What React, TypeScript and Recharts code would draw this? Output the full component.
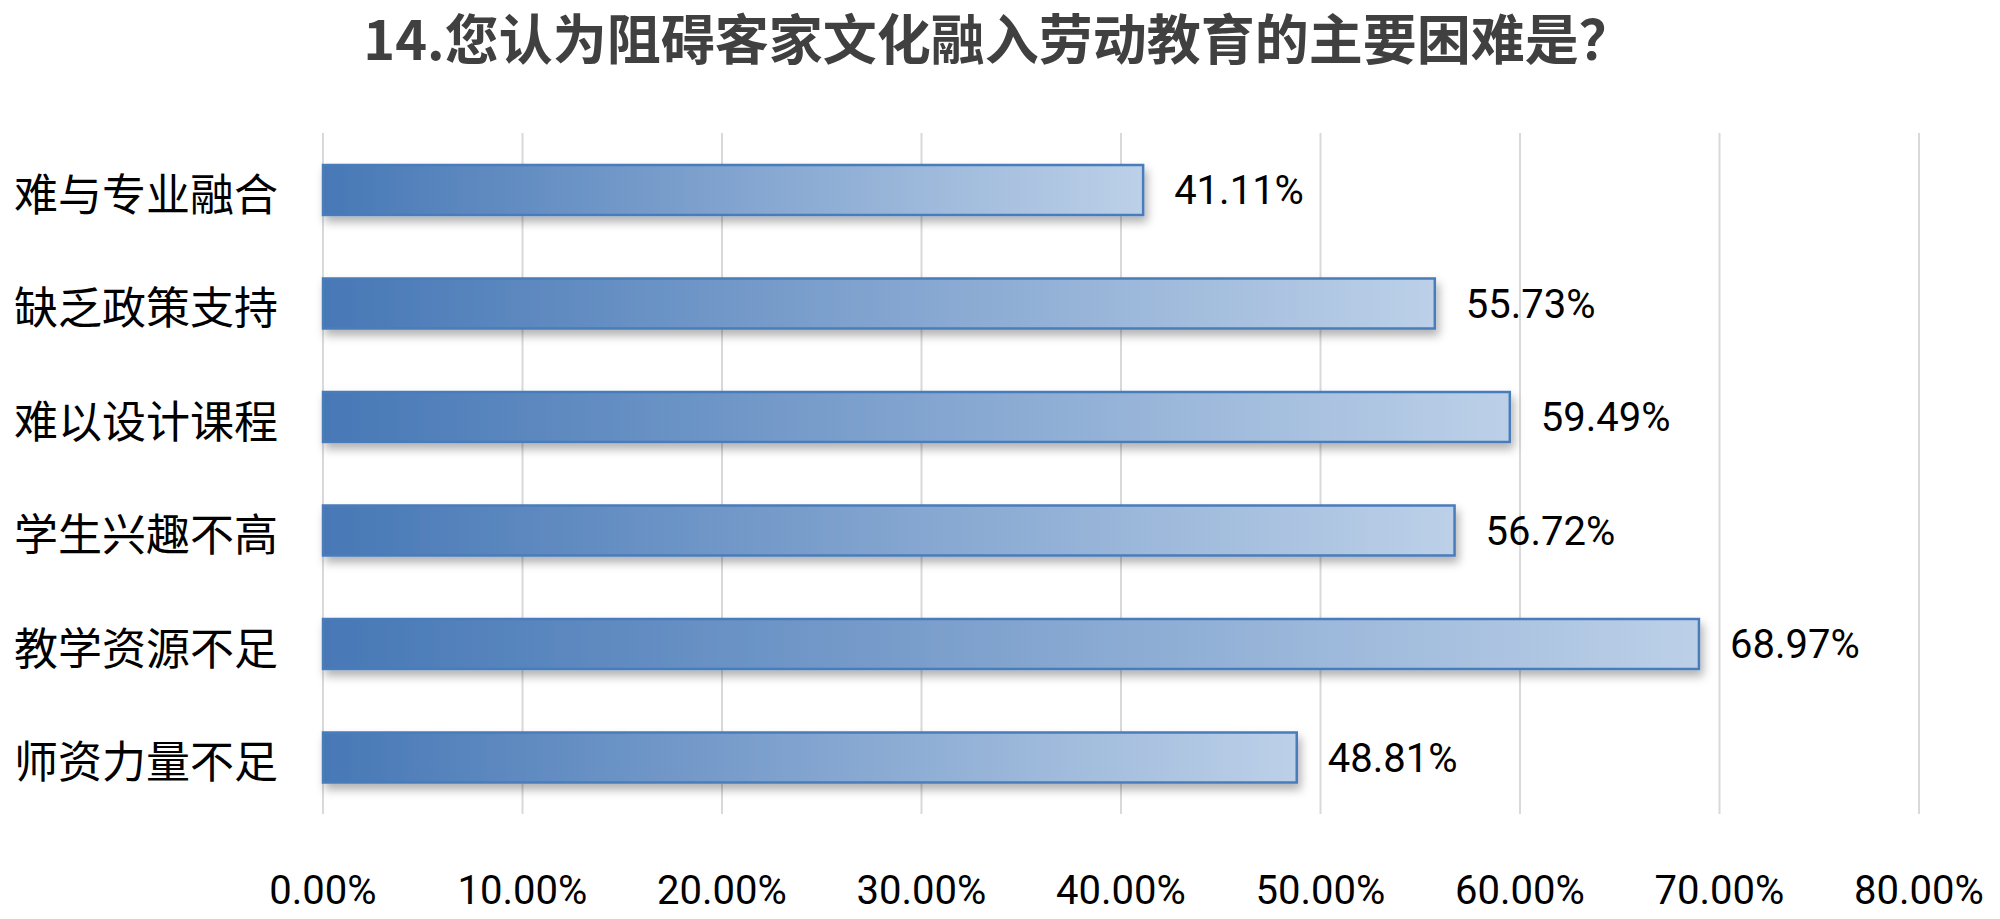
import React from 'react';
import { BarChart, Bar, XAxis, YAxis, CartesianGrid, LabelList } from 'recharts';

const categories = ['难与专业融合', '缺乏政策支持', '难以设计课程', '学生兴趣不高', '教学资源不足', '师资力量不足'];
const percents = [41.11, 55.73, 59.49, 56.72, 68.97, 48.81];
const xTicks = [0, 10, 20, 30, 40, 50, 60, 70, 80];

const data = categories.map((name, i) => ({ name, value: percents[i] }));

const fmt = (v: number) => `${Number(v).toFixed(2)}%`;

const CategoryTick: React.FC<any> = ({ y, payload }) => (
  <text x={14} y={y} dy={2} textAnchor="start" dominantBaseline="central"
    fontFamily='"Noto Sans CJK SC", sans-serif' fontSize={44} fill="#000">
    {payload.value}
  </text>
);

const PercentTick: React.FC<any> = ({ x, y, payload }) => (
  <text x={x} y={y} dy={68} textAnchor="middle" dominantBaseline="central"
    fontFamily="Roboto, sans-serif" fontSize={40} fill="#000">
    {fmt(payload.value)}
  </text>
);

const App: React.FC = () => {
  return (
    <div style={{ position: 'absolute', left: 0, top: 0, width: 2000, height: 919, background: '#fff' }}>
      <div style={{
        position: 'absolute', left: 0, top: 4, width: 1996, textAlign: 'center',
        fontFamily: '"Noto Sans CJK SC", sans-serif', fontWeight: 700, fontSize: 54,
        color: '#404040', lineHeight: '66px',
      }}>
        14.您认为阻碍客家文化融入劳动教育的主要困难是？
      </div>
      <BarChart width={2000} height={919} data={data} layout="vertical"
        margin={{ top: 133, right: 81, bottom: 0, left: 0 }} barCategoryGap={0}>
        <defs>
          <linearGradient id="barGrad" x1="0" y1="0" x2="1" y2="0">
            <stop offset="0%" stopColor="#4778b6" />
            <stop offset="100%" stopColor="#bcd0e8" />
          </linearGradient>
          <filter id="barShadow" x="-5%" y="-30%" width="115%" height="180%">
            <feDropShadow dx="3" dy="6" stdDeviation="5" floodColor="#000" floodOpacity="0.3" />
          </filter>
        </defs>
        <CartesianGrid horizontal={false} stroke="#d9d9d9" strokeWidth={2} />
        <XAxis type="number" domain={[0, 80]} ticks={xTicks} height={105}
          axisLine={false} tickLine={false} tick={<PercentTick />} interval={0} />
        <YAxis type="category" dataKey="name" width={323}
          axisLine={false} tickLine={false} tick={<CategoryTick />} />
        <Bar dataKey="value" barSize={50} fill="url(#barGrad)" stroke="#4a7cbb" strokeWidth={2.5}
          filter="url(#barShadow)" isAnimationActive={false}>
          <LabelList dataKey="value" position="right" offset={31} formatter={(v: any) => fmt(v)}
            fontFamily="Roboto, sans-serif" fontSize={40} fill="#000" />
        </Bar>
      </BarChart>
    </div>
  );
};

export default App;
